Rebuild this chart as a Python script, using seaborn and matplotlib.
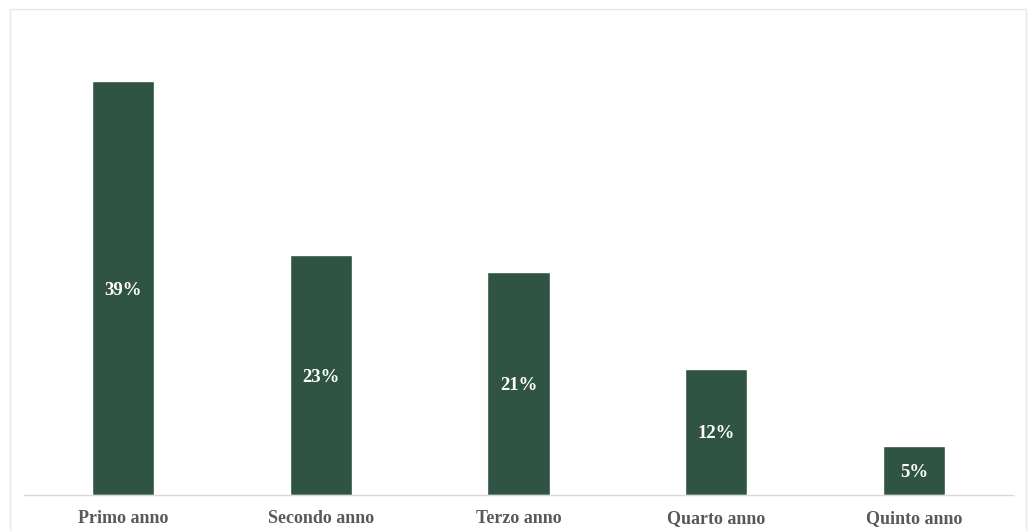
import matplotlib
matplotlib.use('Agg')
import matplotlib.pyplot as plt
import seaborn as sns
import pandas as pd
from matplotlib.patches import Rectangle

# values (share of respondents by year of study)
categories = ['Primo anno', 'Secondo anno', 'Terzo anno', 'Quarto anno', 'Quinto anno']
values = [39.0, 22.6, 21.0, 11.9, 4.6]

bar_color = '#2F5443'
grid_color = '#D9D9D9'
text_grey = '#595959'

sns.set_style('white')
plt.rcParams['font.family'] = ['Liberation Serif', 'DejaVu Serif']

df = pd.DataFrame({'anno': categories, 'quota': values})

fig = plt.figure(figsize=(10.28, 5.31), dpi=100)
ax = fig.add_axes([24 / 1028, 1 - 495 / 531, (1013 - 24) / 1028, (495 - 31) / 531])

sns.barplot(data=df, x='anno', y='quota', color=bar_color, saturation=1,
            width=0.314, ax=ax)

# labels in the middle of each bar
for i, v in enumerate(values):
    ax.text(i, v / 2, f'{v:.0f}%', ha='center', va='center_baseline', color='white',
            fontsize=13.5, fontweight='bold')

ax.set_xlim(-0.5, 4.5)
ax.set_ylim(0, 43.75)
ax.set_xlabel('')
ax.set_ylabel('')
ax.set_yticks([])
ax.tick_params(axis='x', length=0, pad=11, labelsize=13, labelcolor=text_grey)
for lbl in ax.get_xticklabels():
    lbl.set_fontweight('bold')

for side in ['top', 'left', 'right']:
    ax.spines[side].set_visible(False)
ax.spines['bottom'].set_color(grid_color)
ax.spines['bottom'].set_linewidth(1)

# thin chart-area frame, partly cut off at the bottom
fig.patches.append(Rectangle((10 / 1028, -0.05), (1026 - 10) / 1028, 1.05 - 9 / 531,
                             transform=fig.transFigure, fill=False,
                             edgecolor='#E8E8E8', linewidth=1))

fig.savefig('out.png', dpi=100)
